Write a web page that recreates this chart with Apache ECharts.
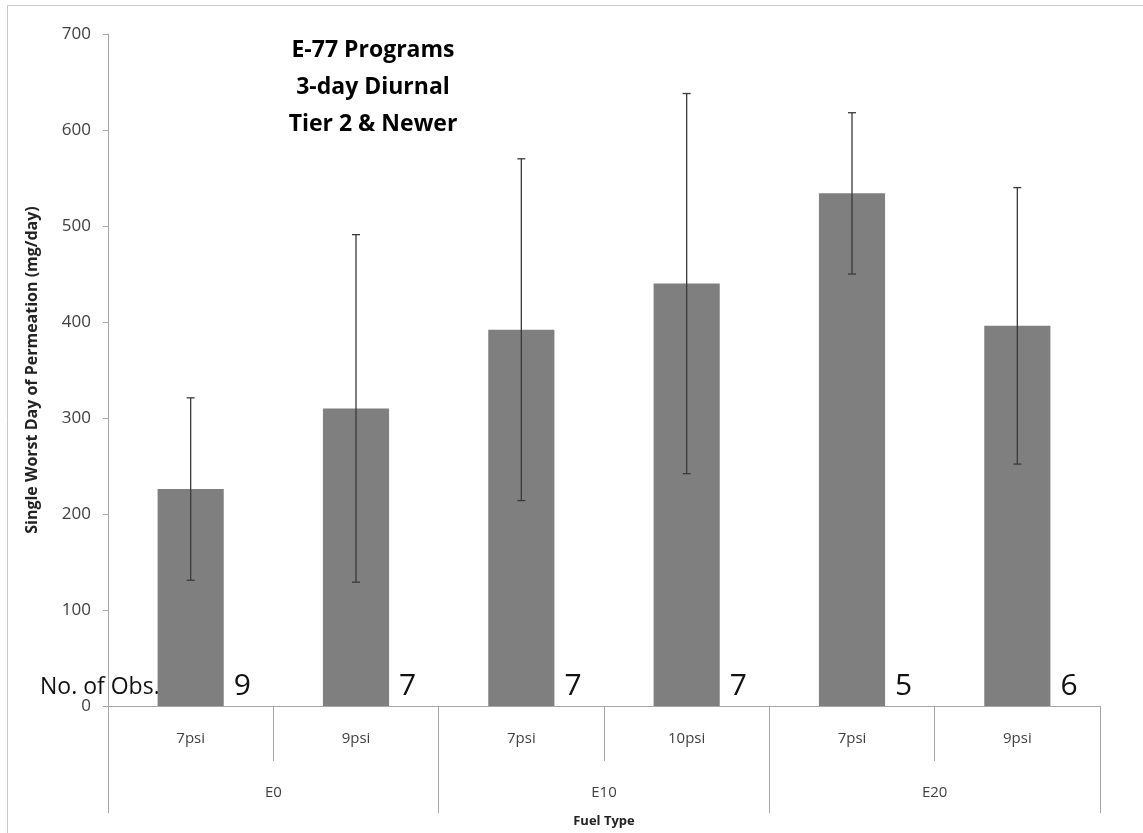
<!DOCTYPE html>
<html>
<head>
<meta charset="utf-8">
<script src="https://cdn.jsdelivr.net/npm/echarts@6/dist/echarts.min.js"></script>
<style>html,body{margin:0;padding:0;background:#fff}#c{width:1143px;height:833px}</style>
</head>
<body>
<div id="c"></div>
<script>
const pressureLabels = ['7psi', '9psi', '7psi', '10psi', '7psi', '9psi'];
const fuelGroups = ['E0', 'E10', 'E20'];
const meanValues = [226, 310, 392, 440, 534, 396];
const errorValues = [95, 181, 178, 198, 84, 144];
const obsCounts = [9, 7, 7, 7, 5, 6];
const yTicks = { min: 0, max: 700, interval: 100 };
const titleLines = ['E-77 Programs', '3-day Diurnal', 'Tier 2 & Newer'];

const FONT = '"Open Sans", "Noto Sans", sans-serif';
const chart = echarts.init(document.getElementById('c'), null, { renderer: 'canvas' });

const errData = meanValues.map((m, i) => [i, m - errorValues[i], m + errorValues[i]]);

chart.setOption({
  animation: false,
  backgroundColor: '#fff',
  grid: { left: 108, right: 43, top: 34, bottom: 123, containLabel: false },
  xAxis: [
    {
      type: 'category', data: pressureLabels, position: 'bottom',
      axisLine: { show: true, lineStyle: { color: '#a6a6a6', width: 1 } },
      axisTick: { show: true, interval: 0, length: 55, lineStyle: { color: '#a6a6a6' } },
      axisLabel: { interval: 0, margin: 25, fontFamily: FONT, fontSize: 15, color: '#404040' }
    },
    {
      type: 'category', data: fuelGroups, position: 'bottom',
      axisLine: { show: false },
      axisTick: { show: true, interval: 0, length: 107, lineStyle: { color: '#a6a6a6' } },
      axisLabel: { interval: 0, margin: 79, fontFamily: FONT, fontSize: 15, color: '#404040' },
      name: 'Fuel Type', nameLocation: 'middle', nameGap: 109,
      nameTextStyle: { fontFamily: FONT, fontSize: 13, fontWeight: 'bold', color: '#222' }
    }
  ],
  yAxis: {
    type: 'value', min: yTicks.min, max: yTicks.max, interval: yTicks.interval,
    splitLine: { show: false },
    axisLine: { show: true, lineStyle: { color: '#a6a6a6' } },
    axisTick: { show: true, length: 5, lineStyle: { color: '#a6a6a6' } },
    axisLabel: { margin: 17, fontFamily: FONT, fontSize: 17, color: '#404040' },
    name: 'Single Worst Day of Permeation (mg/day)', nameLocation: 'middle', nameGap: 68,
    nameTextStyle: { fontFamily: FONT, fontSize: 16, fontWeight: 'bold', color: '#222' }
  },
  series: [
    {
      type: 'bar', data: meanValues, barWidth: '40%', xAxisIndex: 0,
      itemStyle: { color: '#7f7f7f' },
      label: {
        show: true, position: ['100%', '100%'], align: 'left', verticalAlign: 'bottom',
        offset: [10, -5], fontFamily: FONT, fontSize: 30, color: '#111',
        formatter: p => String(obsCounts[p.dataIndex])
      }
    },
    {
      type: 'custom', xAxisIndex: 0, data: errData, z: 5,
      renderItem: function (params, api) {
        const x = api.value(0);
        const lo = api.coord([x, api.value(1)]);
        const hi = api.coord([x, api.value(2)]);
        const cap = 4;
        const st = { stroke: '#3a3a3a', lineWidth: 1.3 };
        return {
          type: 'group', children: [
            { type: 'line', shape: { x1: lo[0], y1: lo[1], x2: hi[0], y2: hi[1] }, style: st },
            { type: 'line', shape: { x1: hi[0] - cap, y1: hi[1], x2: hi[0] + cap, y2: hi[1] }, style: st },
            { type: 'line', shape: { x1: lo[0] - cap, y1: lo[1], x2: lo[0] + cap, y2: lo[1] }, style: st }
          ]
        };
      }
    }
  ],
  graphic: [
    { type: 'rect', shape: { x: 7.5, y: 5.5, width: 1140, height: 830 }, style: { fill: 'none', stroke: '#c8c8c8', lineWidth: 1 }, silent: true },
    { type: 'text', x: 373, y: 32, style: { text: titleLines.join('\n'), textAlign: 'center', fontFamily: FONT, fontSize: 23, fontWeight: 'bold', lineHeight: 37, fill: '#000' } },
    { type: 'text', x: 40, y: 676, style: { text: 'No. of Obs.', fontFamily: FONT, fontSize: 23, fill: '#111' } }
  ]
});
</script>
</body>
</html>
